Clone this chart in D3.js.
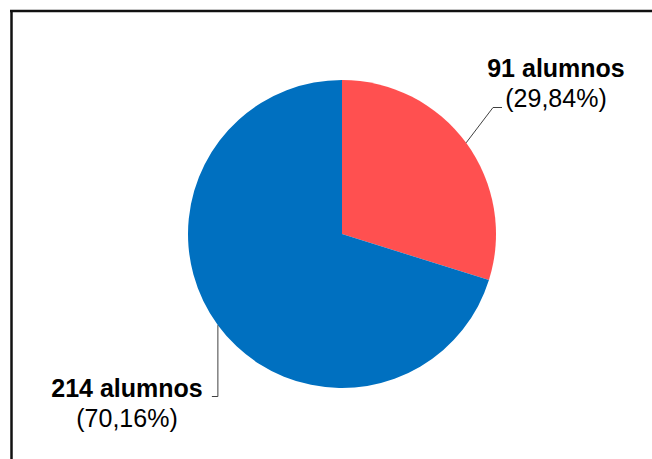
<!DOCTYPE html>
<html>
<head>
<meta charset="utf-8">
<script src="https://cdn.jsdelivr.net/npm/d3@7"></script>
<style>
  html, body { margin: 0; padding: 0; background: #fff; }
  svg { display: block; }
</style>
</head>
<body>
<svg id="chart" width="652" height="459"></svg>
<script>
// Student counts per group (drawn clockwise from 12 o'clock)
const groups = ["grupo A", "grupo B"];
const counts = [91, 214];
const percentLabels = ["(29,84%)", "(70,16%)"];
const sliceColors = ["#FF5050", "#0070C0"];

const W = 652, H = 459;
const svg = d3.select("#chart");

// Frame: top and left rules
svg.append("line").attr("x1", 10).attr("x2", W).attr("y1", 11).attr("y2", 11)
  .attr("stroke", "#111").attr("stroke-width", 2.5);
svg.append("line").attr("x1", 11.5).attr("x2", 11.5).attr("y1", 10).attr("y2", H)
  .attr("stroke", "#111").attr("stroke-width", 2.5);

const cx = 342, cy = 234, r = 154;
const pie = d3.pie().sort(null).value(d => d.count);
const data = groups.map((g, i) => ({ group: g, count: counts[i], pct: percentLabels[i], color: sliceColors[i] }));
const arcs = pie(data);
const arc = d3.arc().innerRadius(0).outerRadius(r);

const g = svg.append("g").attr("transform", `translate(${cx},${cy})`);
g.selectAll("path.slice").data(arcs).enter().append("path")
  .attr("class", "slice")
  .attr("d", arc)
  .attr("fill", d => d.data.color);

// Edge point of each slice at its mid-angle
function edgePoint(d, rad) {
  const a = (d.startAngle + d.endAngle) / 2;
  return [cx + rad * Math.sin(a), cy - rad * Math.cos(a)];
}

const font = "'Liberation Sans', Arial, sans-serif";

// Label layout for each slice: leader polyline and text anchors
const labelLayout = [
  { elbow: [493, 107.5], end: [502, 107.5], textX: 556, y1: 77, y2: 107 },
  { elbow: null, end: null, textX: 127, y1: 397, y2: 427 }
];

arcs.forEach((d, i) => {
  const L = labelLayout[i];
  const p0 = edgePoint(d, r);
  let pts;
  if (i === 0) {
    pts = [p0, L.elbow, L.end];
  } else {
    pts = [p0, [p0[0], 396.5], [p0[0] - 6, 396.5]];
  }
  svg.append("path")
    .attr("d", d3.line()(pts))
    .attr("fill", "none")
    .attr("stroke", "#404040")
    .attr("stroke-width", 1);

  svg.append("text")
    .attr("x", L.textX).attr("y", L.y1)
    .attr("text-anchor", "middle")
    .attr("font-family", font).attr("font-weight", "bold").attr("font-size", 25)
    .attr("fill", "#000")
    .text(d.data.count + " alumnos");
  svg.append("text")
    .attr("x", L.textX).attr("y", L.y2)
    .attr("text-anchor", "middle")
    .attr("font-family", font).attr("font-size", 25)
    .attr("fill", "#000")
    .text(d.data.pct);
});
</script>
</body>
</html>
